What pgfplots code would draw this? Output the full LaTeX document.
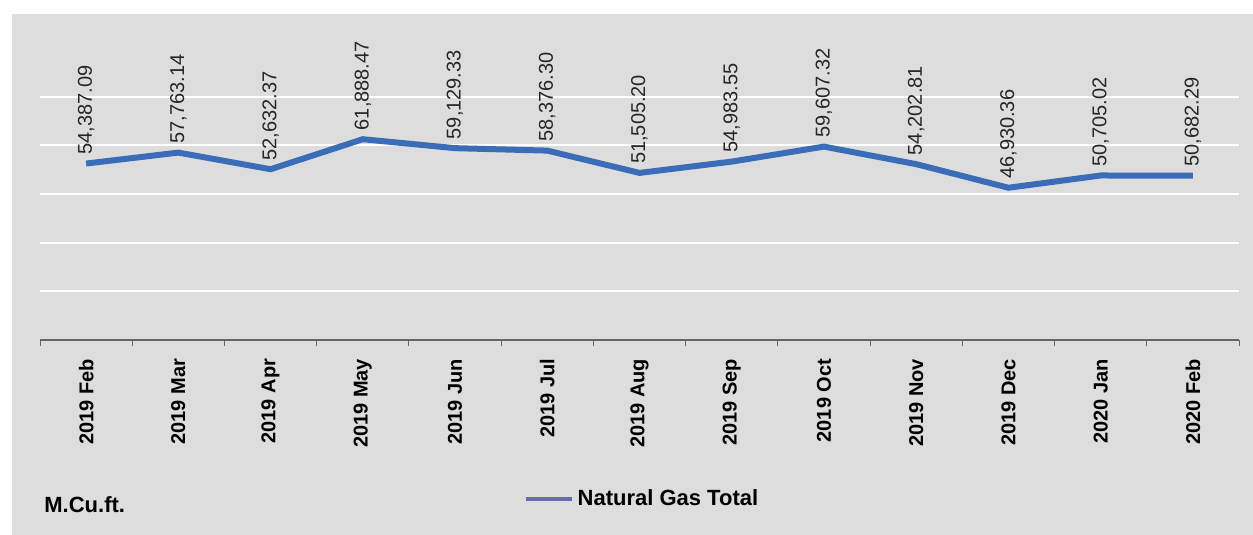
\documentclass[border=0pt]{standalone}
\usepackage{fontspec}
\setmainfont{Liberation Sans}
\usepackage{pgfplots}
\pgfplotsset{compat=1.18}
\usepackage{pgfplotstable}
\definecolor{bgGray}{HTML}{DDDDDD}
\definecolor{gasBlue}{HTML}{3B6CB8}
\definecolor{legLine}{HTML}{6A6AAE}

\pgfplotstableread{
x y lab
0 54387.09 54,387.09
1 57763.14 57,763.14
2 52632.37 52,632.37
3 61888.47 61,888.47
4 59129.33 59,129.33
5 58376.30 58,376.30
6 51505.20 51,505.20
7 54983.55 54,983.55
8 59607.32 59,607.32
9 54202.81 54,202.81
10 46930.36 46,930.36
11 50705.02 50,705.02
12 50682.29 50,682.29
}\gas

\begin{document}
\begin{tikzpicture}
\useasboundingbox (-20bp,-97.5bp) rectangle (606.5bp,170bp);
\fill[white] (-20bp,-97.5bp) rectangle (606.5bp,170bp);
\fill[bgGray] (-14bp,-97.5bp) rectangle (606.5bp,163bp);
\begin{axis}[
    at={(0,0)}, anchor=south west,
    scale only axis,
    width=599.5bp, height=146bp,
    xmin=-0.5, xmax=12.5,
    ymin=0, ymax=90000,
    scaled y ticks=false,
    axis x line*=bottom,
    axis y line*=left,
    y axis line style={draw=none},
    x axis line style={draw=gray!80!black, line width=0.6bp},
    ytick={15000,30000,45000,60000,75000},
    yticklabels={},
    ytick style={draw=none},
    ymajorgrids,
    grid style={white, line width=0.9bp},
    xtick={0,...,12},
    xticklabels={2019 Feb,2019 Mar,2019 Apr,2019 May,2019 Jun,2019 Jul,2019 Aug,2019 Sep,2019 Oct,2019 Nov,2019 Dec,2020 Jan,2020 Feb},
    major x tick style={draw=none},
    minor xtick={-0.5,0.5,...,12.5},
    minor tick length=3bp,
    xtick align=outside,
    minor x tick style={gray!80!black, line width=0.5bp},
    xticklabel style={rotate=90, anchor=east, font=\fontsize{10bp}{12bp}\selectfont\bfseries, inner sep=0pt, xshift=-5bp},
    legend style={at={(0.503,-0.545)}, anchor=center, draw=none, fill=none,
        font=\fontsize{11bp}{13bp}\selectfont\bfseries, inner sep=0pt},
    legend cell align=left,
    legend image code/.code={\draw[legLine, line width=1.8bp] (0bp,0bp) -- (23bp,0bp);},
    nodes near coords,
    point meta=explicit symbolic,
    every node near coord/.append style={rotate=90, anchor=west,
        font=\fontsize{10bp}{12bp}\selectfont, text=black!85, inner sep=3bp},
]
\addplot[gasBlue, line width=3bp, mark=none] table[x=x, y=y, meta=lab] {\gas};
\addlegendentry{Natural Gas Total}
\end{axis}
\node[anchor=west, inner sep=0pt, font=\fontsize{11bp}{13bp}\selectfont\bfseries] at (2bp,-82.5bp) {M.Cu.ft.};
\end{tikzpicture}
\end{document}
